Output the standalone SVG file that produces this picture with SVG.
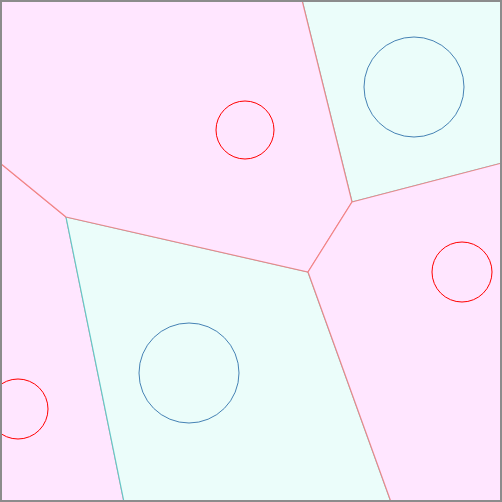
<svg xmlns="http://www.w3.org/2000/svg" width="502" height="502" viewBox="0 0 502 502">
<style>
.pink{fill:#ffe6ff;stroke:#f07a7a;stroke-width:1.2;stroke-opacity:0.85}
.cyan{fill:#ebfdfa;stroke:#4cc8c8;stroke-width:1.2;stroke-opacity:0.85}
.red{fill:none;stroke:#ff0000;stroke-width:1}
.blue{fill:none;stroke:#4682b4;stroke-width:1}
</style>
<rect x="0" y="0" width="502" height="502" fill="#ffffff"/>
<g id="cells">
<g id="cell-left"><polygon class="pink" points="0,163 66,217 124,502 0,502"/></g>
<g id="cell-bottom"><polygon class="cyan" points="66,217 308,272 391,502 124,502"/></g>
<g id="cell-topright"><polygon class="cyan" points="302,0 502,0 502,163 352,202"/></g>
<g id="cell-top"><polygon class="pink" points="0,0 302,0 352,202 308,272 66,217 0,163"/></g>
<g id="cell-right"><polygon class="pink" points="352,202 502,163 502,502 391,502 308,272"/></g>
</g>
<g id="sites">
<g id="site-top"><circle class="red" cx="245" cy="130" r="29"/></g>
<g id="site-topright"><circle class="blue" cx="414" cy="87" r="50"/></g>
<g id="site-right"><circle class="red" cx="462" cy="272" r="30"/></g>
<g id="site-bottom"><circle class="blue" cx="189" cy="373" r="50"/></g>
<g id="site-left"><circle class="red" cx="18" cy="409" r="30"/></g>
</g>
<rect x="1" y="1" width="500" height="500" fill="none" stroke="#8c8c8c" stroke-width="2"/>
</svg>
